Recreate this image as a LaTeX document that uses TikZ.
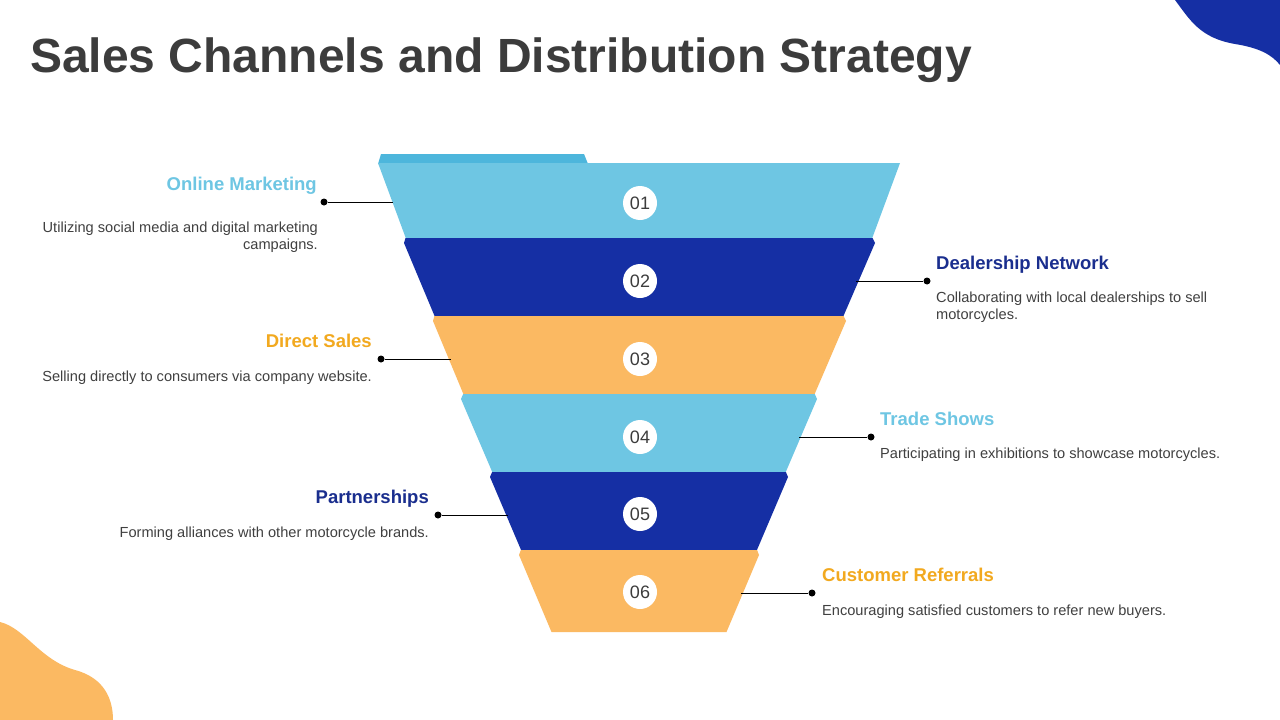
\documentclass[tikz,border=0pt]{standalone}
\usepackage{fontspec}
\setmainfont{Liberation Sans}
\usetikzlibrary{positioning}
\definecolor{fncyan}{HTML}{6EC6E3}
\definecolor{fntab}{HTML}{4DB6DC}
\definecolor{fnblue}{HTML}{152FA4}
\definecolor{fnorange}{HTML}{FBB962}
\definecolor{lbcyan}{HTML}{6EC6E3}
\definecolor{lbblue}{HTML}{1A2E8E}
\definecolor{lborange}{HTML}{F2A91F}
\definecolor{fnink}{HTML}{3C3C3C}
\definecolor{fntext}{HTML}{404040}
\tikzset{
  numdot/.style={circle,fill=white,minimum size=34pt,inner sep=0pt,font=\fontsize{18}{20}\selectfont,text=fnink},
  head/.style={inner sep=0pt,font=\fontsize{18.5}{22}\selectfont\bfseries},
  desc/.style={inner sep=0pt,font=\fontsize{14.6}{17}\selectfont,text=fntext},
  pin/.style={circle,fill=black,minimum size=7pt,inner sep=0pt},
  leader/.style={draw=black,line width=0.8pt},
}
\begin{document}
\begin{tikzpicture}[x=1pt,y=-1pt]
  \useasboundingbox[fill=white] (0,0) rectangle (1280,720);
  % corner blobs
  \fill[fnblue] (1175,0) .. controls (1190,20) and (1200,38) .. (1235,44) .. controls (1260,48) and (1272,55) .. (1280,65) -- (1280,0) -- cycle;
  \fill[fnorange] (0,622) .. controls (25,628) and (40,660) .. (75,670) .. controls (105,678) and (113,700) .. (113,720) -- (0,720) -- cycle;
  % title
  \node[anchor=base west,inner sep=0pt,font=\fontsize{48}{56}\selectfont\bfseries,text=fnink] (title) at (30,72) {Sales Channels and Distribution Strategy};
  % funnel layers
  \fill[fntab] (381,154) -- (584,154) -- (588,164) -- (378,164) -- cycle;
  \fill[fncyan] (378,163) -- (900,163) -- (871.5,240) -- (406.5,240) -- cycle;
  \fill[fnblue] (405.5,238) -- (872.5,238) -- (875,243) -- (842.6,318) -- (435.4,318) -- (404,243) -- cycle;
  \fill[fnorange] (434.4,316) -- (843.6,316) -- (846,321) -- (813.8,396) -- (464.2,396) -- (433,321) -- cycle;
  \fill[fncyan] (463.2,394) -- (814.8,394) -- (817,399) -- (784.9,474) -- (493.1,474) -- (461,399) -- cycle;
  \fill[fnblue] (492.1,472) -- (785.9,472) -- (788,477) -- (756.1,552) -- (521.9,552) -- (490,477) -- cycle;
  \fill[fnorange] (520.9,550) -- (757.1,550) -- (759,555) -- (726.5,632) -- (551.5,632) -- (519,555) -- cycle;
  % step numbers
  \node[numdot] (n1) at (640,203) {01};
  \node[numdot] (n2) at (640,281) {02};
  \node[numdot] (n3) at (640,359) {03};
  \node[numdot] (n4) at (640,437) {04};
  \node[numdot] (n5) at (640,514) {05};
  \node[numdot] (n6) at (640,592) {06};
  % edge points on the funnel
  \coordinate (e1) at (393,202);
  \coordinate (e2) at (856,281);
  \coordinate (e3) at (451,359);
  \coordinate (e4) at (799,437);
  \coordinate (e5) at (508,515);
  \coordinate (e6) at (741,593);
  % pins
  \node[pin] (p1) at (324,202) {};
  \node[pin] (p2) at (927,281) {};
  \node[pin] (p3) at (381,359) {};
  \node[pin] (p4) at (871,437) {};
  \node[pin] (p5) at (438,515) {};
  \node[pin] (p6) at (812,593) {};
  \draw[leader] (p1) -- (e1);
  \draw[leader] (e2) -- (p2);
  \draw[leader] (p3) -- (e3);
  \draw[leader] (e4) -- (p4);
  \draw[leader] (p5) -- (e5);
  \draw[leader] (e6) -- (p6);
  % labels, left side
  \node[head,text=lbcyan,anchor=base east] (h1) at (317,190) {Online Marketing};
  \node[desc,anchor=base east,align=right] (t1) at (318,249) {Utilizing social media and digital marketing\\campaigns.};
  \node[head,text=lborange,anchor=base east] (h3) at (372,347) {Direct Sales};
  \node[desc,anchor=base east] (t3) at (372,381) {Selling directly to consumers via company website.};
  \node[head,text=lbblue,anchor=base east] (h5) at (429,503) {Partnerships};
  \node[desc,anchor=base east] (t5) at (429,537) {Forming alliances with other motorcycle brands.};
  % labels, right side
  \node[head,text=lbblue,anchor=base west] (h2) at (936,269) {Dealership Network};
  \node[desc,anchor=base west,align=left] (t2) at (936,319) {Collaborating with local dealerships to sell\\motorcycles.};
  \node[head,text=lbcyan,anchor=base west] (h4) at (880,425) {Trade Shows};
  \node[desc,anchor=base west] (t4) at (880,458) {Participating in exhibitions to showcase motorcycles.};
  \node[head,text=lborange,anchor=base west] (h6) at (822,581) {Customer Referrals};
  \node[desc,anchor=base west] (t6) at (822,615) {Encouraging satisfied customers to refer new buyers.};
\end{tikzpicture}
\end{document}
